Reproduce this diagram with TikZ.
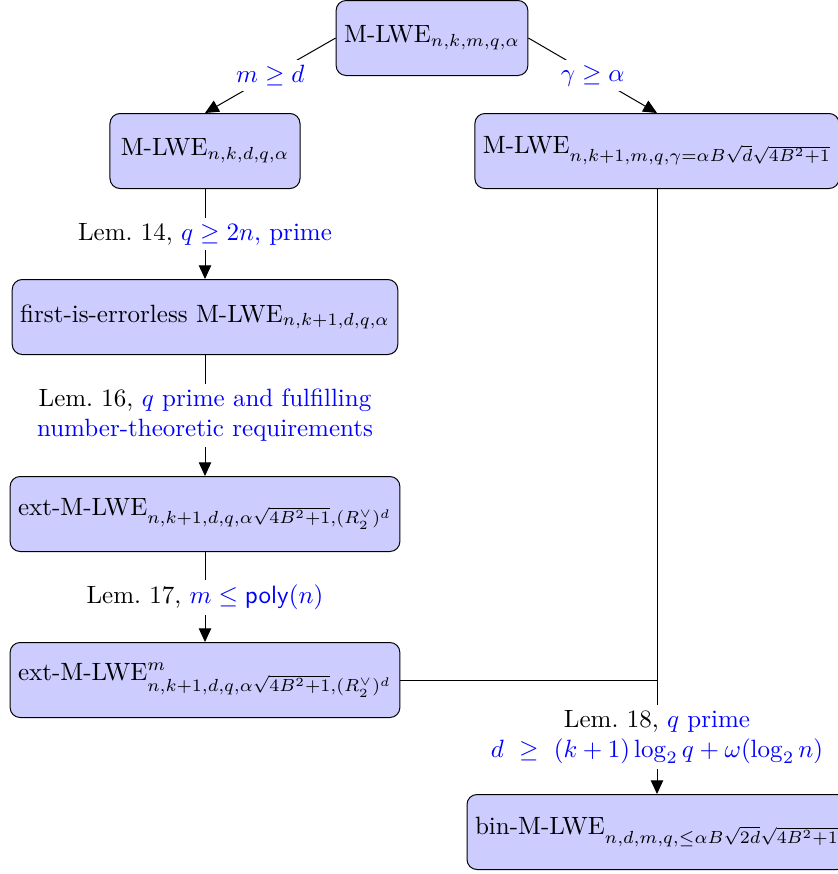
\documentclass[tikz,border=0pt]{standalone}
\usetikzlibrary{arrows.meta}
\begin{document}
\begin{tikzpicture}[x=0.4pt,y=-0.4pt,
  box/.style={draw=black,fill=blue!20,rounded corners=4pt,minimum height=30pt,inner sep=3.2pt},
  lbl/.style={fill=white,align=center,inner sep=2pt},
  arr/.style={-{Triangle[length=5.5pt,width=5pt]}}]
\useasboundingbox (0,0) rectangle (838,874);
\node[box] (top) at (432,38) {M-LWE$_{n,k,m,q,\alpha}$};
\node[box,minimum width=76pt] (l1) at (205,151) {M-LWE$_{n,k,d,q,\alpha}$};
\node[box] (r1) at (657,151) {M-LWE$_{n,k+1,m,q,\gamma=\alpha B\sqrt{d}\sqrt{4B^2+1}}$};
\node[box] (l2) at (205,317) {first-is-errorless M-LWE$_{n,k+1,d,q,\alpha}$};
\node[box] (l3) at (205,514) {ext-M-LWE$_{n,k+1,d,q,\alpha\sqrt{4B^2+1},(R_2^\vee)^d}$};
\node[box] (l4) at (205,680) {ext-M-LWE$^m_{n,k+1,d,q,\alpha\sqrt{4B^2+1},(R_2^\vee)^d}$};
\node[box] (bin) at (657,832) {bin-M-LWE$_{n,d,m,q,\leq\alpha B\sqrt{2d}\sqrt{4B^2+1}}$};
\draw[arr] (top.west) -- node[lbl]{\textcolor{blue}{$m\geq d$}} (l1.north);
\draw[arr] (top.east) -- node[lbl]{\textcolor{blue}{$\gamma\geq \alpha$}} (r1.north);
\draw[arr] (l1.south) -- node[lbl]{Lem.\ 14, \textcolor{blue}{$q\geq 2n$, prime}} (l2.north);
\draw[arr] (l2.south) -- node[lbl]{Lem.\ 16, \textcolor{blue}{$q$ prime and fulfilling}\\\textcolor{blue}{number-theoretic requirements}} (l3.north);
\draw[arr] (l3.south) -- node[lbl]{Lem.\ 17, \textcolor{blue}{$m\leq \mathsf{poly}(n)$}} (l4.north);
\coordinate (j) at (r1.south |- l4.east);
\draw (r1.south) -- (j);
\draw (l4.east) -- (j);
\draw[arr] (j) -- node[lbl]{Lem.\ 18, \textcolor{blue}{$q$ prime}\\\textcolor{blue}{$d\ \geq\ (k+1)\log_2 q+\omega(\log_2 n)$}} (bin.north);
\end{tikzpicture}
\end{document}
